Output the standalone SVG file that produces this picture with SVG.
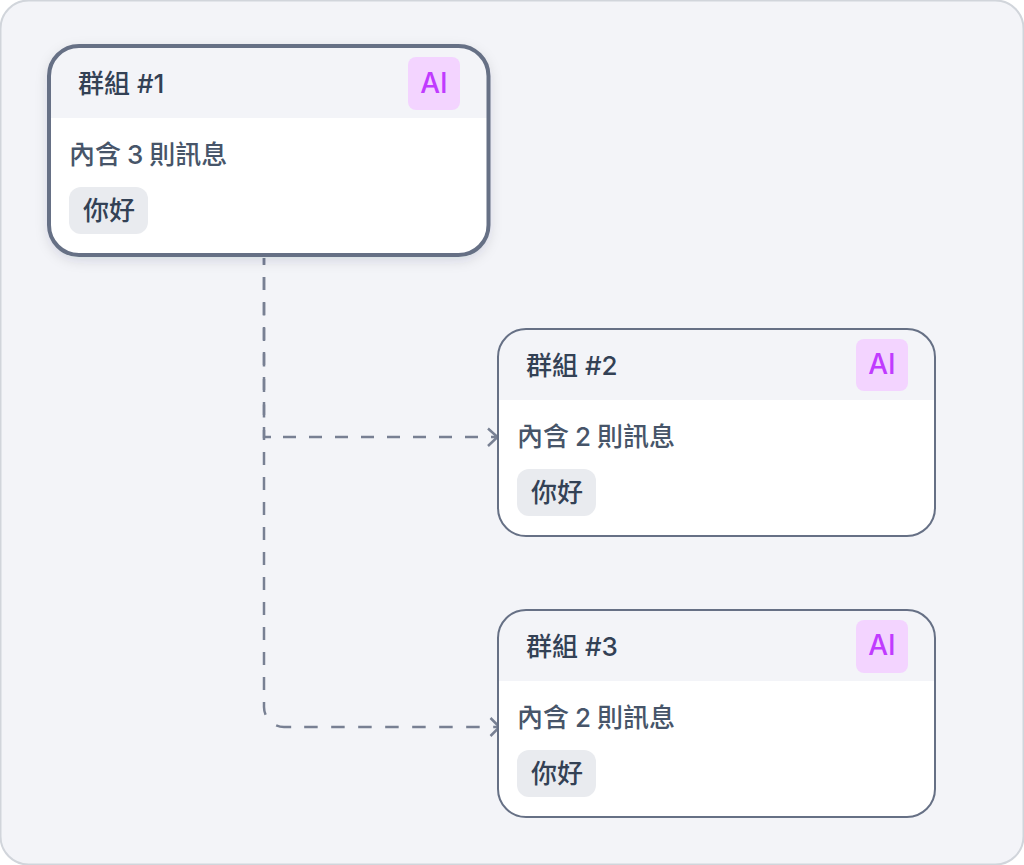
<svg xmlns="http://www.w3.org/2000/svg" width="1024" height="865" viewBox="0 0 1024 865">
<defs>
<style>
text{font-family:"Inter","Noto Sans CJK TC","Noto Sans CJK SC",sans-serif;font-size:26px}
.title{font-weight:500;fill:#334155}
.sub{font-weight:500;fill:#475569;word-spacing:-1px}
.tag{font-weight:500;fill:#334155}
.ai{font-size:28px;font-weight:500;fill:#c03bff;text-anchor:middle}
.body{fill:#fff}
.head{fill:#f3f4f8}
.chip{fill:#e9ebef}
.aibg{fill:#f3d4ff}
.frame{fill:none;stroke:#667085;stroke-width:2}
.frame1{fill:none;stroke:#667085;stroke-width:4}
.conn{fill:none;stroke:#788093;stroke-width:2.500}
.arrow{fill:none;stroke:#788093;stroke-width:2.500}
</style>
<filter id="sh" x="-15%" y="-25%" width="130%" height="150%">
<feDropShadow dx="0" dy="4" stdDeviation="7" flood-color="#1f2937" flood-opacity="0.16"/>
</filter>
<clipPath id="c1"><rect x="49" y="46" width="439.500" height="209" rx="30"/></clipPath>
<clipPath id="c2"><rect x="498" y="329" width="437" height="207" rx="28"/></clipPath>
<clipPath id="c3"><rect x="498" y="610" width="437" height="207" rx="28"/></clipPath>
</defs>
<rect x="0.5" y="0.5" width="1023" height="864" rx="28" fill="#f3f4f8" stroke="#d1d5db" stroke-width="2"/>
<g id="connectors">
<path class="conn" d="M264 258V437H497" stroke-dasharray="6.800 12.200 13 12.500 13 12.500 13 12.500 13 12.500 13 12.500 13 12.500 14 12 13 13 13 13 13 13 13 13 13 13 13 13 13 13 13 13 13 13"/>
<path class="conn" d="M264 258V707A20 20 0 0 0 284 727H499" stroke-dasharray="7 12 13 12 13 12 13 12 13 12 13 12 13 12 13 12 13 12 13 12 13 12 13 12 13 12 13 12 13 12 13 12 13 12 13 12 13 15.200 15.200 13 13.500 13.500 13.500 13.500 13.500 13.500 13.500 13.500 13.500 13.500 13.500 13.500 13.500 13.500 13.500 13.500"/>
<path class="arrow" d="M488 428.500L497.500 437L488 446"/>
<path class="arrow" d="M490.500 718L499.500 727L490.500 736"/>
</g>
<g id="node-1">
<rect x="49" y="46" width="439.500" height="209" rx="30" fill="#fff" filter="url(#sh)"/>
<g clip-path="url(#c1)">
<rect class="head" x="49" y="46" width="440" height="72"/>
</g>
<rect class="frame1" x="49" y="46" width="439.500" height="209" rx="30"/>
<text class="title" x="78" y="93">群組 #1</text>
<rect class="aibg" x="408" y="57" width="52" height="53" rx="8"/>
<text class="ai" x="434" y="93">AI</text>
<text class="sub" x="69" y="164">內含 3 則訊息</text>
<rect class="chip" x="69" y="187" width="79" height="47" rx="12"/>
<text class="tag" x="83" y="220">你好</text>
</g>
<g id="node-2">
<rect class="body" x="498" y="329" width="437" height="207" rx="28"/>
<g clip-path="url(#c2)"><rect class="head" x="498" y="329" width="437" height="71"/></g>
<rect class="frame" x="498" y="329" width="437" height="207" rx="28"/>
<text class="title" x="526" y="375">群組 #2</text>
<rect class="aibg" x="856" y="339" width="52" height="52" rx="8"/>
<text class="ai" x="882" y="374">AI</text>
<text class="sub" x="517" y="446">內含 2 則訊息</text>
<rect class="chip" x="517" y="469" width="79" height="47" rx="12"/>
<text class="tag" x="531" y="502">你好</text>
</g>
<g id="node-3">
<rect class="body" x="498" y="610" width="437" height="207" rx="28"/>
<g clip-path="url(#c3)"><rect class="head" x="498" y="610" width="437" height="71"/></g>
<rect class="frame" x="498" y="610" width="437" height="207" rx="28"/>
<text class="title" x="526" y="656">群組 #3</text>
<rect class="aibg" x="856" y="620" width="52" height="53" rx="8"/>
<text class="ai" x="882" y="655">AI</text>
<text class="sub" x="517" y="727">內含 2 則訊息</text>
<rect class="chip" x="517" y="750" width="79" height="47" rx="12"/>
<text class="tag" x="531" y="783">你好</text>
</g>
</svg>
